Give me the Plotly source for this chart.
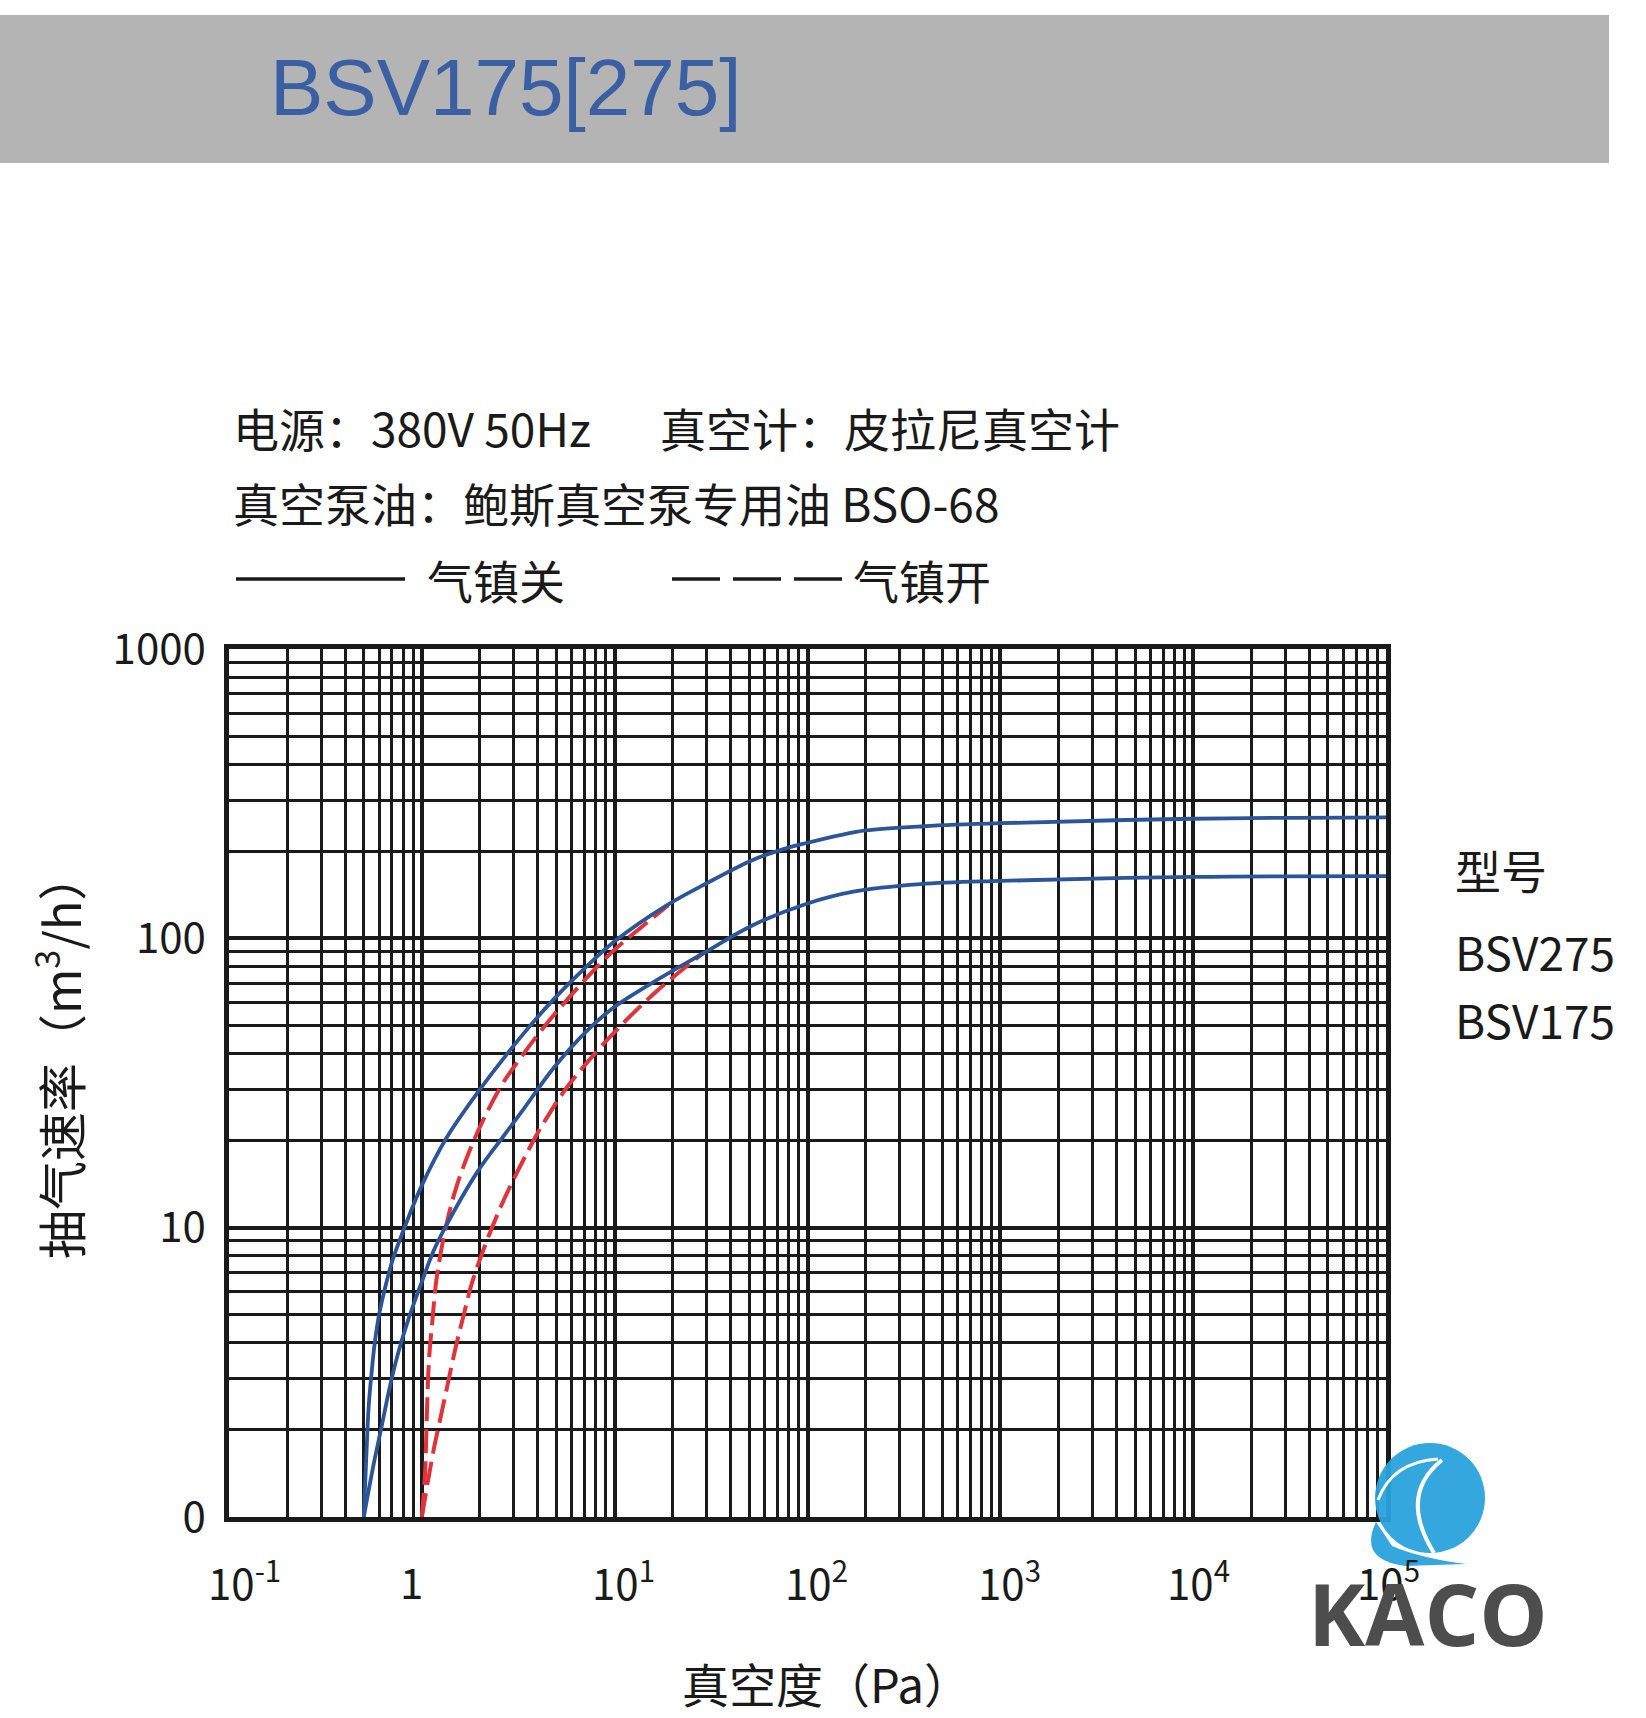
import plotly.graph_objects as go
import math

W, H = 1646, 1718

# ---------------- data ----------------
# BSV275, gas ballast closed (solid)
p275_off = [0.50, 0.515, 0.53, 0.55, 0.57, 0.60, 0.645, 0.70, 0.77, 1.0, 1.346, 1.96, 3.23, 4.81, 7.16,
            10, 18.6, 30, 52.4, 78, 100, 150, 200, 400, 1000, 10000, 100000]
s275_off = [1.0, 1.6, 2.4, 3.2, 4.0, 5.0, 6.2, 7.6, 9.1, 14.0, 20.5, 29.5, 45.3, 61.4, 80,
            97.7, 130, 155, 187, 205, 214, 228, 236, 244, 250, 259, 262]
# BSV175, gas ballast closed (solid)
p175_off = [0.50, 0.56, 0.62, 0.684, 0.755, 0.85, 1.0, 1.15, 1.32, 1.93, 2.65, 3.4, 4.8, 7.2,
            10, 15.9, 29, 52, 100, 173, 384, 1000, 10000, 100000]
s175_off = [1.0, 1.5, 2.07, 2.84, 3.7, 4.8, 6.5, 8.3, 10, 15.5, 20.7, 25.9, 35.5, 48,
            58, 70.6, 89, 111, 132, 145, 154, 158, 163, 164]
# BSV275, gas ballast open (dashed)
p275_on = [1.0, 1.04, 1.06, 1.09, 1.14, 1.19, 1.33, 1.52, 1.89, 2.55, 3.23, 4.45, 7.16, 10, 13.6, 18.9]
s275_on = [1.0, 1.43, 2.18, 3.5, 4.95, 6.6, 10, 14, 20.5, 30.5, 38.4, 50.8, 73, 91.4, 108.6, 130]
# BSV175, gas ballast open (dashed)
p175_on = [1.0, 1.15, 1.24, 1.35, 1.49, 1.65, 1.84, 2.55, 3.87, 4.45, 5.65, 9.27, 16.5, 28.9]
s175_on = [1.0, 1.7, 2.15, 2.8, 3.8, 5.0, 6.6, 11.7, 20.5, 24, 30.5, 45, 65.6, 89]

x_tick_values = [0.1, 1, 10, 100, 1000, 10000, 100000]
x_tick_text = ["10<sup>-1</sup>", "1", "10<sup>1</sup>", "10<sup>2</sup>",
               "10<sup>3</sup>", "10<sup>4</sup>", "10<sup>5</sup>"]
x_tick_shift = [15, -10, 9, 9, 9, 5, 2]   # label offsets seen in the reference (px)
y_tick_values = [1, 10, 100, 1000]
y_tick_text = ["0", "10", "100", "1000"]

title_text = "BSV175[275]"
info_line1a = "电源：380V 50Hz"
info_line1b = "真空计：皮拉尼真空计"
info_line2 = "真空泵油：鲍斯真空泵专用油 BSO-68"
legend_off = "气镇关"
legend_on = "气镇开"
model_labels = ["型号", "BSV275", "BSV175"]
y_title = "抽气速率（m<sup>3</sup>/h）"
x_title = "真空度（Pa）"

# ---------------- style ----------------
BLUE = "#2c5599"
RED = "#e0333a"
GRID = "#1a1a1a"
TXT = "#1a1a1a"
CJK = "Noto Sans CJK SC"


def px(x):
    return x / W


def py(y):
    return 1 - y / H


fig = go.Figure()
for p, s in [(p175_on, s175_on), (p275_on, s275_on)]:
    fig.add_trace(go.Scatter(x=p, y=s, mode="lines", hoverinfo="skip", showlegend=False,
                             line=dict(color=RED, width=4, dash="24px,8px",
                                       shape="spline", smoothing=1.0)))
for p, s in [(p175_off, s175_off), (p275_off, s275_off)]:
    fig.add_trace(go.Scatter(x=p, y=s, mode="lines", hoverinfo="skip", showlegend=False,
                             line=dict(color=BLUE, width=3.8, shape="spline", smoothing=1.0)))

axis_common = dict(
    type="log", showgrid=True, gridcolor=GRID, gridwidth=4,
    minor=dict(dtick="D1", showgrid=True, gridcolor=GRID, gridwidth=2.6, ticks=""),
    showline=True, linecolor=GRID, linewidth=4.5, mirror=True, ticks="",
    zeroline=False, automargin=False, fixedrange=True, tickmode="array",
)

fig.update_layout(
    width=W, height=H, template="none",
    margin=dict(l=0, r=0, t=0, b=0, pad=0),
    paper_bgcolor="white", plot_bgcolor="white",
    showlegend=False,
    xaxis=dict(axis_common, range=[-1, 5], domain=[px(229), px(1386)],
               tickvals=x_tick_values, showticklabels=False),
    yaxis=dict(axis_common, range=[0, 3], domain=[py(1517), py(649)],
               tickvals=y_tick_values, ticktext=y_tick_text,
               tickfont=dict(family=CJK, size=42, color=TXT), ticklabelstandoff=10),
)

shapes = []
# gray title band
shapes.append(dict(type="rect", xref="paper", yref="paper", x0=px(0), x1=px(1609),
                   y0=py(163), y1=py(15), fillcolor="#b4b4b4", line=dict(width=0), layer="below"))
# legend line samples
shapes.append(dict(type="line", xref="paper", yref="paper", x0=px(236), x1=px(405),
                   y0=py(579), y1=py(579), line=dict(color=TXT, width=3.5)))
shapes.append(dict(type="line", xref="paper", yref="paper", x0=px(672), x1=px(842),
                   y0=py(579), y1=py(579), line=dict(color=TXT, width=3.5, dash="48px,13px")))

# KACO logo (approximate)
LOGO = "#29a3dc"
shapes.append(dict(type="circle", xref="paper", yref="paper", x0=px(1375), x1=px(1485),
                   y0=py(1553), y1=py(1443), fillcolor=LOGO, line=dict(width=0),
                   opacity=0.95, layer="above"))


def path(points_cmds):
    out = []
    for cmd in points_cmds:
        if isinstance(cmd, str):
            out.append(cmd)
        else:
            out.append(f"{px(cmd[0]):.5f},{py(cmd[1]):.5f}")
    return " ".join(out)


tail = path(["M", (1376, 1522), "Q", (1358, 1560), (1405, 1566), "L", (1466, 1564),
             "Q", (1420, 1558), (1392, 1546), "Z"])
shapes.append(dict(type="path", xref="paper", yref="paper", path=tail, fillcolor=LOGO,
                   line=dict(width=0), opacity=0.95, layer="above"))
arc1 = path(["M", (1442, 1460), "Q", (1398, 1495), (1434, 1553)])
shapes.append(dict(type="path", xref="paper", yref="paper", path=arc1,
                   line=dict(color="white", width=4), layer="above"))
arc2 = path(["M", (1438, 1459), "Q", (1392, 1462), (1378, 1500)])
shapes.append(dict(type="path", xref="paper", yref="paper", path=arc2,
                   line=dict(color="white", width=3), layer="above"))
fig.update_layout(shapes=shapes)

ann = []


def add_text(text, x, y, size, xanchor="left", color=TXT, family=CJK, angle=0):
    ann.append(dict(text=text, x=px(x), y=py(y), xref="paper", yref="paper",
                    xanchor=xanchor, yanchor="middle", showarrow=False, textangle=angle,
                    font=dict(family=family, size=size, color=color)))


# x tick labels placed on the x axis scale
for v, t, sh in zip(x_tick_values, x_tick_text, x_tick_shift):
    ann.append(dict(text=t, x=math.log10(v), xref="x", y=py(1580), yref="paper",
                    xanchor="center", yanchor="middle", xshift=sh, showarrow=False,
                    font=dict(family=CJK, size=42, color=TXT)))

add_text(title_text, 268, 88, 80, color="#3a5fa3", family="Liberation Sans, Arial, sans-serif")
add_text(info_line1a, 231, 427, 46)
add_text(info_line1b, 658, 427, 46)
add_text(info_line2, 231, 502, 46)
add_text(legend_off, 425, 579, 46)
add_text(legend_on, 851, 579, 46)
add_text(model_labels[0], 1453, 869, 46)
add_text(model_labels[1], 1453, 951, 46)
add_text(model_labels[2], 1453, 1019, 46)
add_text(y_title, 57, 1056, 49, xanchor="center", angle=-90)
add_text(x_title, 826, 1682, 47, xanchor="center")
ann.append(dict(text="<b>KACO</b>", x=px(1428), y=py(1612), xref="paper", yref="paper",
                xanchor="center", yanchor="middle", showarrow=False,
                font=dict(family="Open Sans", size=86, color="#4d4d4d")))
fig.update_layout(annotations=ann)

fig.write_html("out.html", config={"displayModeBar": False},
               post_script="document.body.style.margin='0';document.body.style.overflow='hidden';")
